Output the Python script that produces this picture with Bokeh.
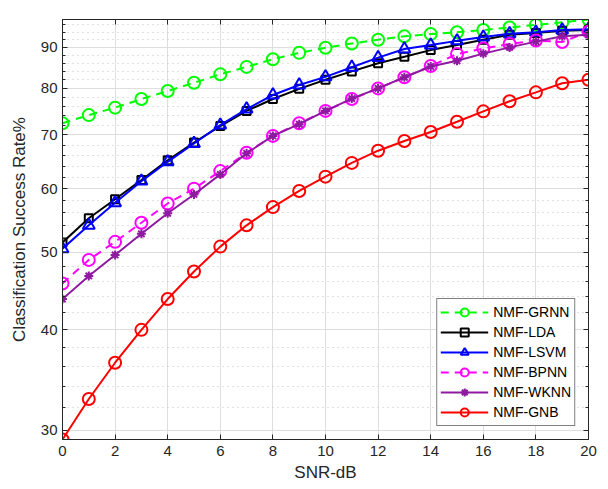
from bokeh.plotting import figure
from bokeh.models import (FixedTicker, LinearAxis, LogAxis, Range1d, PrintfTickFormatter,
                          CustomLabelingPolicy)
from bokeh.embed import file_html
from bokeh.resources import INLINE

snr = list(range(21))
x_ticks = [0, 2, 4, 6, 8, 10, 12, 14, 16, 18, 20]
y_ticks = [30, 40, 50, 60, 70, 80, 90]
y_minor = list(range(30, 98, 2))

grnn = [72.4, 74.1, 75.7, 77.6, 79.4, 81.3, 83.3, 85.1, 87.0, 88.6, 89.9,
        91.0, 92.0, 92.9, 93.5, 94.0, 94.6, 95.3, 96.0, 96.7, 97.5]
lda = [51.4, 55.1, 58.2, 61.5, 65.1, 68.5, 71.8, 75.0, 77.6, 79.9, 82.0,
       84.0, 86.0, 87.6, 89.3, 90.6, 92.0, 93.3, 93.8, 94.4, 94.6]
lsvm = [50.5, 54.0, 57.6, 61.3, 64.8, 68.3, 72.0, 75.4, 78.5, 80.8, 82.7,
        85.0, 87.4, 89.6, 90.6, 91.7, 92.7, 93.6, 94.0, 94.6, 94.8]
bpnn = [45.7, 48.9, 51.5, 54.4, 57.5, 60.0, 63.1, 66.5, 69.8, 72.4, 75.0,
        77.6, 80.0, 82.6, 85.3, 88.3, 89.7, 90.9, 91.8, 91.4, 94.1]
wknn = [43.7, 46.7, 49.6, 52.7, 55.9, 59.0, 62.5, 66.4, 69.8, 72.2, 75.0,
        77.7, 80.0, 82.6, 85.2, 86.6, 88.4, 90.0, 91.5, 92.9, 93.3]
gnb = [29.2, 32.8, 36.4, 40.0, 43.7, 47.3, 50.8, 54.0, 56.9, 59.6, 62.1,
       64.6, 66.9, 68.8, 70.6, 72.7, 74.9, 77.1, 79.1, 81.2, 82.0]

FONT = "Liberation Sans"
AX = "#262626"

p = figure(width=608, height=489, y_axis_type="log",
           x_range=Range1d(0, 20), y_range=Range1d(29.2, 97.5),
           output_backend="svg", toolbar_location=None,
           min_border_left=62, min_border_right=14, min_border_top=19,
           min_border_bottom=50)
p.background_fill_color = "white"
p.outline_line_color = AX
p.outline_line_width = 1

# axes
p.xaxis.ticker = FixedTicker(ticks=x_ticks)
p.yaxis.ticker = FixedTicker(ticks=y_ticks, minor_ticks=y_minor)
p.yaxis.formatter = PrintfTickFormatter(format="%d")
p.xaxis.axis_label = "SNR-dB"
p.yaxis.axis_label = "Classification Success Rate%"
for ax in [p.xaxis[0], p.yaxis[0]]:
    ax.axis_line_color = AX
    ax.major_tick_line_color = AX
    ax.minor_tick_line_color = AX
    ax.major_tick_in = 5
    ax.major_tick_out = 0
    ax.minor_tick_in = 3
    ax.minor_tick_out = 0
    ax.major_label_text_font = FONT
    ax.major_label_text_font_size = "15px"
    ax.major_label_text_color = AX
    ax.axis_label_text_font = FONT
    ax.axis_label_text_font_size = "17px"
    ax.axis_label_text_font_style = "normal"
    ax.axis_label_text_color = AX
p.xaxis.major_label_standoff = 6
p.xaxis.axis_label_standoff = 4
p.yaxis.major_label_standoff = 5
p.yaxis.axis_label_standoff = 9

no_labels = CustomLabelingPolicy(code="for (const i of indices) indices.unset(i); return indices")
top = LinearAxis(ticker=FixedTicker(ticks=x_ticks), major_label_policy=no_labels,
                 axis_line_color=AX, major_tick_line_color=AX, major_tick_in=5,
                 major_tick_out=0, minor_tick_line_color=None)
right = LogAxis(ticker=FixedTicker(ticks=y_ticks, minor_ticks=y_minor),
                major_label_policy=CustomLabelingPolicy(code="for (const i of indices) indices.unset(i); return indices"),
                axis_line_color=AX,
                major_tick_line_color=AX, minor_tick_line_color=AX,
                major_tick_in=5, major_tick_out=0, minor_tick_in=3, minor_tick_out=0)
p.add_layout(top, "above")
p.add_layout(right, "right")

# grid
p.xgrid.grid_line_color = "#dedede"
p.ygrid.grid_line_color = "#dedede"
p.ygrid.minor_grid_line_color = "#c4c4c4"
p.ygrid.minor_grid_line_dash = "1 4"

series = [
    ("NMF-GRNN", grnn, "#00ff00", "8 6", "circle", 12),
    ("NMF-LDA", lda, "black", "solid", "square", 8),
    ("NMF-LSVM", lsvm, "#0000ff", "solid", "triangle", 12),
    ("NMF-BPNN", bpnn, "#ff00ff", "8 6", "circle", 12),
    ("NMF-WKNN", wknn, "#8e1aa0", "solid", "asterisk", 9),
    ("NMF-GNB", gnb, "#ff0000", "solid", "circle", 12),
]
for name, ys, col, dash, mk, sz in series:
    p.line(snr, ys, line_color=col, line_width=2, line_dash=dash, legend_label=name)
    p.scatter(snr, ys, marker=mk, size=sz, line_color=col, line_width=2,
              fill_color=None, legend_label=name)

lg = p.legend[0]
lg.location = "bottom_right"
lg.margin = 13
lg.padding = 3
lg.spacing = 0
lg.label_height = 20
lg.glyph_height = 20
lg.glyph_width = 48
lg.label_standoff = 5
lg.label_text_font = FONT
lg.label_text_font_size = "14px"
lg.label_text_color = "black"
lg.border_line_color = "black"
lg.border_line_width = 1
lg.background_fill_color = "white"
lg.background_fill_alpha = 1

open("out.html", "w").write(file_html(p, INLINE))
